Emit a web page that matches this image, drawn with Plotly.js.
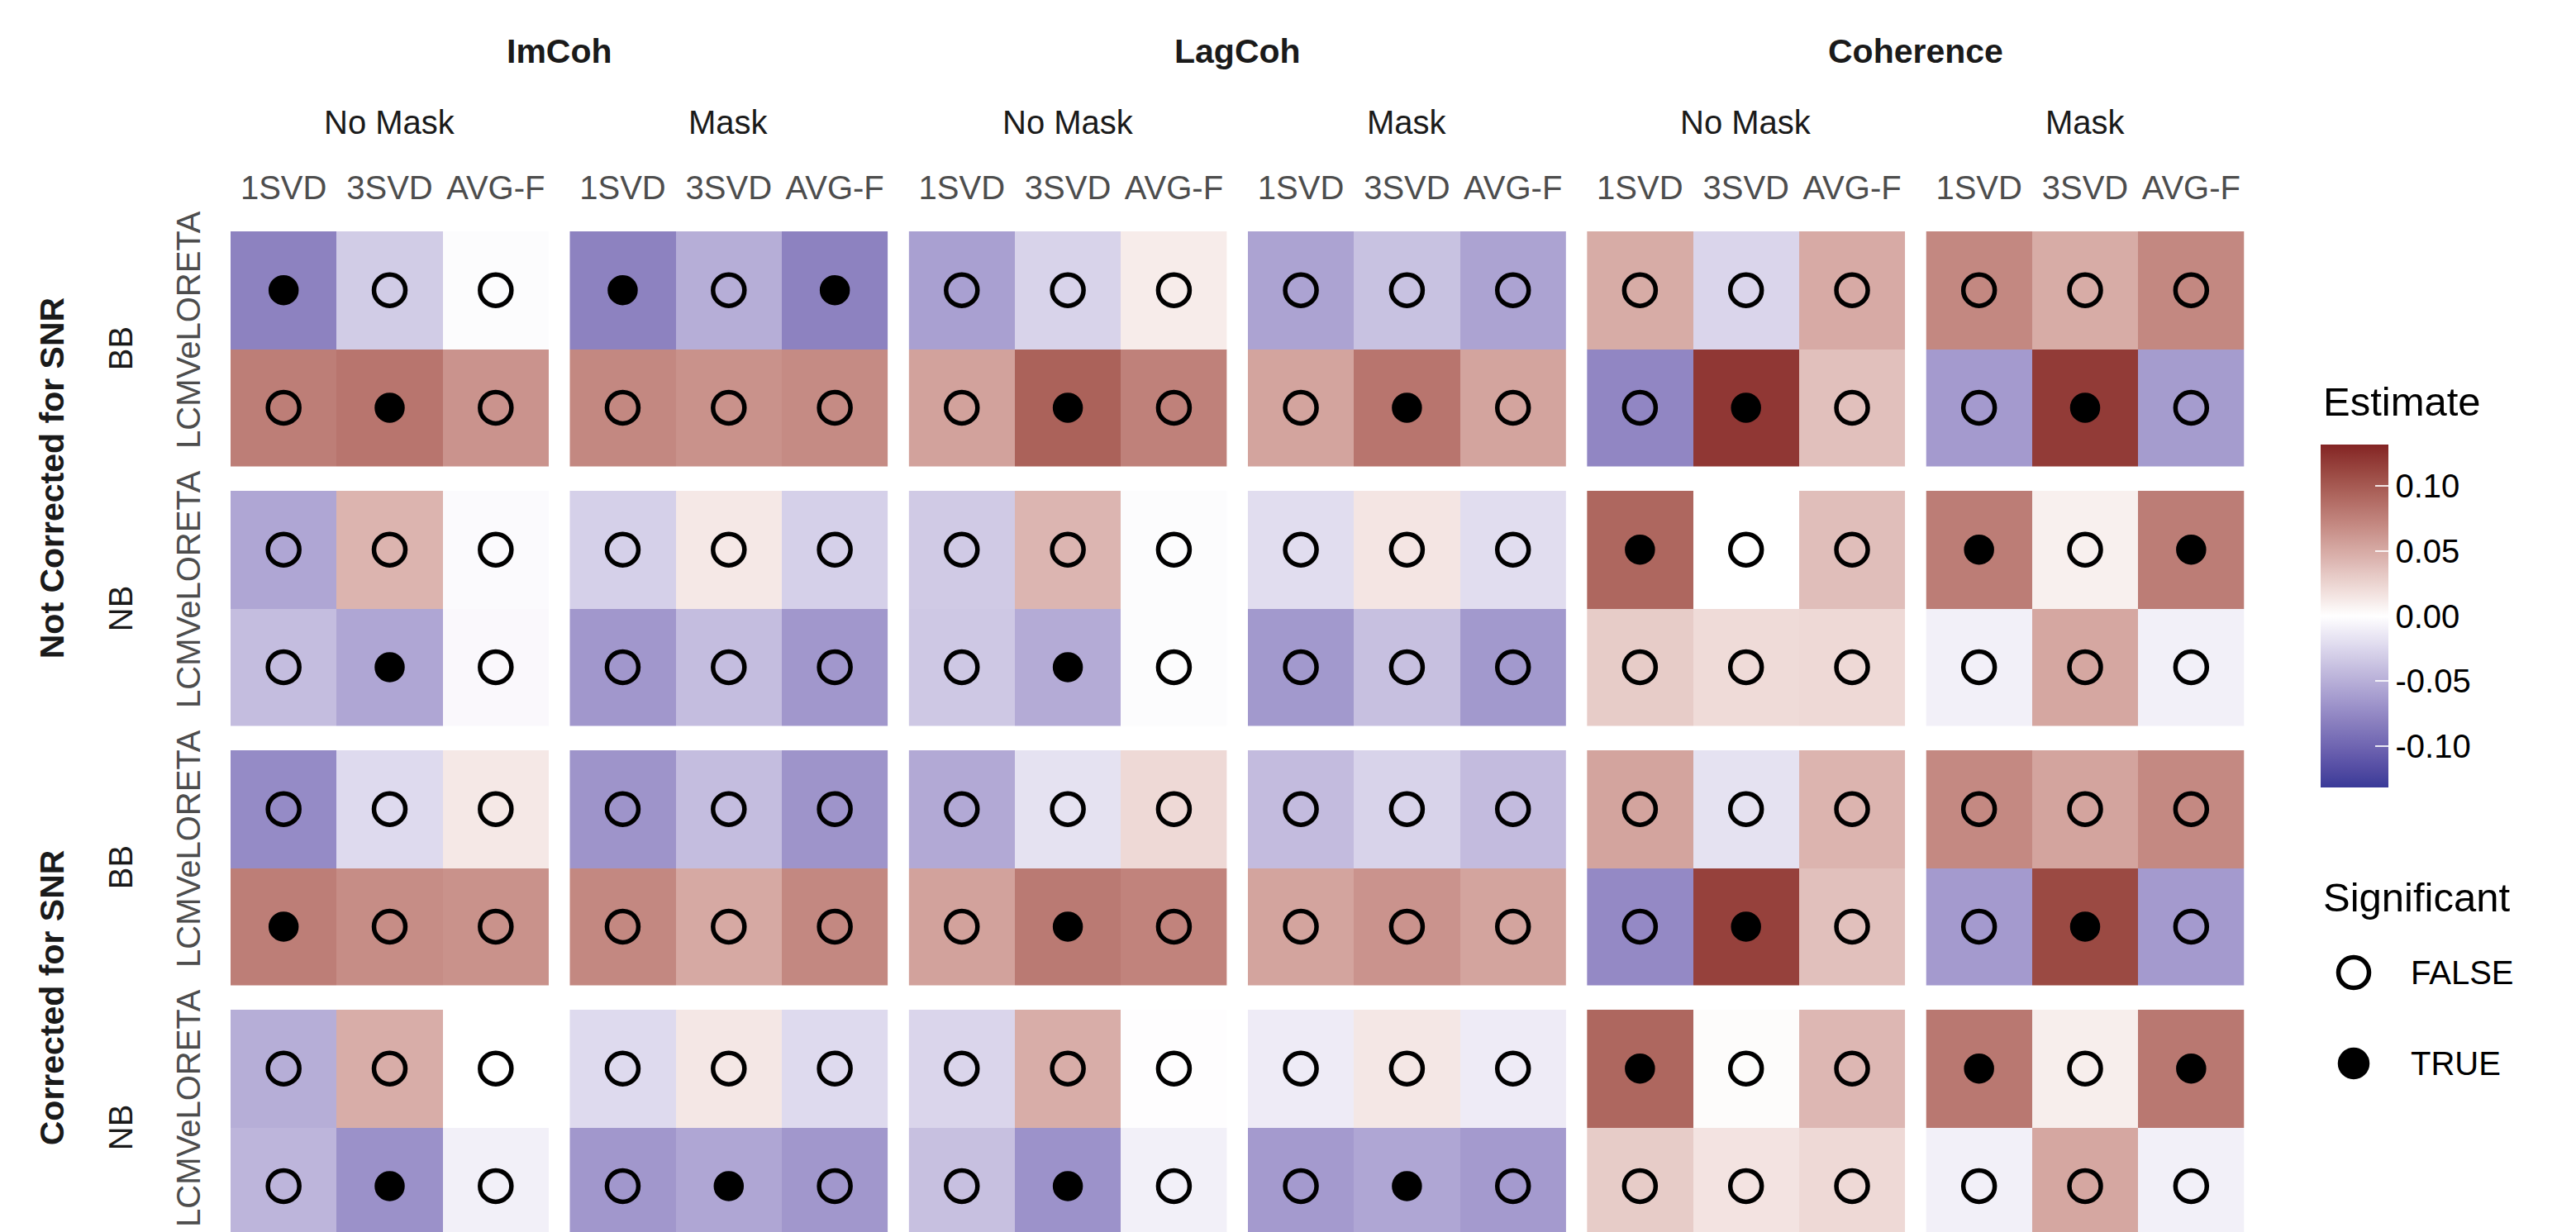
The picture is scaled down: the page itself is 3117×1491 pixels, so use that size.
<!DOCTYPE html>
<html><head><meta charset="utf-8">
<script src="https://cdn.plot.ly/plotly-3.0.1.min.js"></script>
<style>html,body{margin:0;padding:0;background:#fff;overflow:hidden}#chart{width:3117px;height:1491px}</style>
</head><body><div id="chart"></div>
<script>
const W = 3117, H = 1491;
const FONT = 'Liberation Sans, Arial, Helvetica, sans-serif';

// ---- categories ----
const metrics = ['ImCoh', 'LagCoh', 'Coherence'];
const masks = ['No Mask', 'Mask'];
const methods = ['1SVD', '3SVD', 'AVG-F'];
const solvers = ['LCMV', 'eLORETA'];           // bottom -> top inside each panel
const snrLabels = ['Not Corrected for SNR', 'Corrected for SNR'];
const bands = ['BB', 'NB'];
const sigLevels = ['FALSE', 'TRUE'];
const cbTickVals = [-0.10, -0.05, 0.00, 0.05, 0.10];
const cbTickText = ['-0.10', '-0.05', '0.00', '0.05', '0.10'];
const estLimit = 0.132;

// ---- estimates: 18 values per list = panels (ImCoh NoMask, ImCoh Mask, LagCoh NoMask, LagCoh Mask, Coherence NoMask, Coherence Mask) x methods ----
const est_notCorr_BB_eLORETA = [-0.080,-0.032,-0.002, -0.080,-0.051,-0.080, -0.060,-0.027,0.011, -0.058,-0.038,-0.058, 0.049,-0.026,0.050, 0.071,0.049,0.071];
const est_notCorr_BB_LCMV    = [0.077,0.083,0.064, 0.071,0.065,0.069, 0.055,0.095,0.075, 0.054,0.083,0.054, -0.077,0.121,0.037, -0.064,0.119,-0.063];
const est_notCorr_NB_eLORETA = [-0.056,0.044,-0.003, -0.029,0.013,-0.029, -0.033,0.043,-0.002, -0.021,0.015,-0.021, 0.092,0.000,0.038, 0.078,0.009,0.078];
const est_notCorr_NB_LCMV    = [-0.041,-0.056,-0.004, -0.066,-0.041,-0.066, -0.034,-0.053,-0.002, -0.065,-0.039,-0.065, 0.030,0.021,0.022, -0.009,0.052,-0.009];
const est_corr_BB_eLORETA    = [-0.074,-0.023,0.013, -0.068,-0.041,-0.068, -0.054,-0.018,0.022, -0.042,-0.027,-0.042, 0.054,-0.018,0.044, 0.070,0.054,0.070];
const est_corr_BB_LCMV       = [0.077,0.068,0.065, 0.071,0.051,0.071, 0.055,0.080,0.074, 0.054,0.064,0.054, -0.075,0.115,0.037, -0.064,0.110,-0.064];
const est_corr_NB_eLORETA    = [-0.051,0.048,0.000, -0.023,0.014,-0.023, -0.026,0.048,-0.001, -0.012,0.014,-0.012, 0.092,0.002,0.042, 0.081,0.010,0.081];
const est_corr_NB_LCMV       = [-0.046,-0.070,-0.009, -0.066,-0.056,-0.066, -0.039,-0.069,-0.009, -0.064,-0.056,-0.064, 0.030,0.016,0.022, -0.009,0.052,-0.009];

// ---- significance (1 = TRUE) ----
const sig_notCorr_BB_eLORETA = [1,0,0, 1,0,1, 0,0,0, 0,0,0, 0,0,0, 0,0,0];
const sig_notCorr_BB_LCMV    = [0,1,0, 0,0,0, 0,1,0, 0,1,0, 0,1,0, 0,1,0];
const sig_notCorr_NB_eLORETA = [0,0,0, 0,0,0, 0,0,0, 0,0,0, 1,0,0, 1,0,1];
const sig_notCorr_NB_LCMV    = [0,1,0, 0,0,0, 0,1,0, 0,0,0, 0,0,0, 0,0,0];
const sig_corr_BB_eLORETA    = [0,0,0, 0,0,0, 0,0,0, 0,0,0, 0,0,0, 0,0,0];
const sig_corr_BB_LCMV       = [1,0,0, 0,0,0, 0,1,0, 0,0,0, 0,1,0, 0,1,0];
const sig_corr_NB_eLORETA    = [0,0,0, 0,0,0, 0,0,0, 0,0,0, 1,0,0, 1,0,1];
const sig_corr_NB_LCMV       = [0,1,0, 0,1,0, 0,1,0, 0,1,0, 0,0,0, 0,0,0];

const rowEst = [
  [est_notCorr_BB_LCMV, est_notCorr_BB_eLORETA],
  [est_notCorr_NB_LCMV, est_notCorr_NB_eLORETA],
  [est_corr_BB_LCMV, est_corr_BB_eLORETA],
  [est_corr_NB_LCMV, est_corr_NB_eLORETA]
];
const rowSig = [
  [sig_notCorr_BB_LCMV, sig_notCorr_BB_eLORETA],
  [sig_notCorr_NB_LCMV, sig_notCorr_NB_eLORETA],
  [sig_corr_BB_LCMV, sig_corr_BB_eLORETA],
  [sig_corr_NB_LCMV, sig_corr_NB_eLORETA]
];

// ---- colour scale: gradient2 (muted blue - white - muted red) in CIELAB ----
function hex2rgb(h){h=h.replace('#','');return [0,2,4].map(i=>parseInt(h.substr(i,2),16));}
function s2l(c){c/=255;return c<=0.04045?c/12.92:Math.pow((c+0.055)/1.055,2.4);}
function l2s(c){c=c<=0.0031308?12.92*c:1.055*Math.pow(c,1/2.4)-0.055;return Math.round(Math.max(0,Math.min(1,c))*255);}
function rgb2lab(rgb){
  const [r,g,b]=rgb.map(s2l);
  const X=(0.4124*r+0.3576*g+0.1805*b)/0.95047, Y=(0.2126*r+0.7152*g+0.0722*b), Z=(0.0193*r+0.1192*g+0.9505*b)/1.08883;
  const f=t=>t>0.008856?Math.cbrt(t):7.787*t+16/116;
  return [116*f(Y)-16, 500*(f(X)-f(Y)), 200*(f(Y)-f(Z))];
}
function lab2rgb(lab){
  const [L,a,b]=lab; const fy=(L+16)/116, fx=fy+a/500, fz=fy-b/200;
  const fi=t=>t>0.206893?t*t*t:(t-16/116)/7.787;
  const X=fi(fx)*0.95047, Y=fi(fy), Z=fi(fz)*1.08883;
  const r=3.2406*X-1.5372*Y-0.4986*Z, g=-0.9689*X+1.8758*Y+0.0415*Z, bb=0.0557*X-0.2040*Y+1.0570*Z;
  return 'rgb('+l2s(r)+','+l2s(g)+','+l2s(bb)+')';
}
const labLow=rgb2lab(hex2rgb('#3A3A98')), labMid=rgb2lab(hex2rgb('#FFFFFF')), labHigh=rgb2lab(hex2rgb('#832424'));
const colorscale=[];
const NS=40;
for(let i=0;i<=NS;i++){
  const f=i/NS, v=2*f-1, end=v<0?labLow:labHigh, t=Math.abs(v);
  colorscale.push([f, lab2rgb(labMid.map((m,k)=>m+(end[k]-m)*t))]);
}

// ---- geometry (pixels) ----
const panelLeft=279, panelW=385, gapX=25.3;
const panelTop=280, panelH=284.5, gapY=29.5;
const colX0=c=>panelLeft+c*(panelW+gapX);
const rowY0=r=>panelTop+r*(panelH+gapY);
const px=x=>x/W, py=y=>1-y/H;

const traces=[];
const layout={
  width:W, height:H, margin:{l:0,r:0,t:0,b:0}, paper_bgcolor:'#fff', plot_bgcolor:'rgba(0,0,0,0)',
  showlegend:false, font:{family:FONT,size:40,color:'#1A1A1A'}, annotations:[]
};

for(let c=0;c<6;c++){
  const key=c===0?'xaxis':'xaxis'+(c+1);
  layout[key]={domain:[px(colX0(c)),px(colX0(c)+panelW)], anchor:'y', side:'top', type:'category',
    categoryarray:methods, categoryorder:'array', range:[-0.5,2.5], showgrid:false, zeroline:false, showline:false,
    ticks:'', ticklabelstandoff:30, tickfont:{family:FONT,size:40,color:'#4D4D4D'}, fixedrange:true};
}
for(let r=0;r<4;r++){
  const key=r===0?'yaxis':'yaxis'+(r+1);
  const top=rowY0(r), bot=top+panelH;
  let range=[-0.5,1.5], b=bot;
  if(bot>H){ b=H; range=[1.5-2*(H-top)/panelH,1.5]; }
  layout[key]={domain:[py(b),py(top)], anchor:'x', side:'left', type:'category', categoryarray:solvers, categoryorder:'array',
    range:range, showgrid:false, zeroline:false, showline:false, ticks:'', tickangle:-90, ticklabelstandoff:28,
    tickfont:{family:FONT,size:40,color:'#4D4D4D'}, fixedrange:true};
}

for(let r=0;r<4;r++){
  for(let c=0;c<6;c++){
    const xa=c===0?'x':'x'+(c+1), ya=r===0?'y':'y'+(r+1);
    const z=solvers.map((s,si)=>rowEst[r][si].slice(c*3,c*3+3));
    traces.push({type:'heatmap', x:methods, y:solvers, z:z, xaxis:xa, yaxis:ya, zmin:-estLimit, zmax:estLimit,
      colorscale:colorscale, hoverinfo:'skip', showscale:(r===0&&c===0),
      colorbar:{x:px(2808), xanchor:'left', xpad:0, y:py(745.5), yanchor:'middle', ypad:0, len:415, lenmode:'pixels',
        thickness:82, thicknessmode:'pixels', outlinewidth:0, tickmode:'array', tickvals:cbTickVals, ticktext:cbTickText,
        ticks:'inside', ticklen:16, tickwidth:2, tickcolor:'rgba(255,255,255,0.85)', tickfont:{family:FONT,size:40,color:'#000'}}});
    const mx=[],my=[],sym=[],sz=[];
    solvers.forEach((s,si)=>methods.forEach((m,mi)=>{
      const sg=rowSig[r][si][c*3+mi];
      mx.push(m); my.push(s); sym.push(sg?'circle':'circle-open'); sz.push(sg?31:38);
    }));
    traces.push({type:'scatter', mode:'markers', x:mx, y:my, xaxis:xa, yaxis:ya, hoverinfo:'skip', cliponaxis:true,
      marker:{symbol:sym, size:sz, opacity:1, color:'#000', line:{color:'#000', width:5.5}}});
  }
}

// ---- legend for Significant as a small keyed subplot ----
layout.xaxis7={domain:[px(2810),px(2886)], anchor:'y5', type:'category', range:[-0.5,0.5], visible:false, fixedrange:true};
layout.yaxis5={domain:[py(1342),py(1122)], anchor:'x7', side:'right', type:'category', categoryarray:['TRUE','FALSE'],
  categoryorder:'array', range:[-0.5,1.5], showgrid:false, zeroline:false, showline:false, ticks:'', ticklabelstandoff:30,
  tickfont:{family:FONT,size:40,color:'#000'}, fixedrange:true};
traces.push({type:'scatter', mode:'markers', x:sigLevels.map(()=>'key'), y:sigLevels, xaxis:'x7', yaxis:'y5', hoverinfo:'skip',
  marker:{symbol:sigLevels.map(s=>s==='TRUE'?'circle':'circle-open'), size:sigLevels.map(s=>s==='TRUE'?33:37), opacity:1,
    color:'#000', line:{color:'#000',width:5.5}}});

// ---- strip labels ----
const ann=layout.annotations;
for(let k=0;k<3;k++){
  const x0=colX0(2*k), x1=colX0(2*k+1)+panelW;
  ann.push({xref:'paper',yref:'paper',x:px((x0+x1)/2),y:py(62),text:metrics[k],showarrow:false,xanchor:'center',yanchor:'middle',
    font:{family:FONT,size:41,color:'#1A1A1A',weight:'bold'}});
  for(let m=0;m<2;m++){
    const c=2*k+m;
    ann.push({xref:'paper',yref:'paper',x:px(colX0(c)+panelW/2),y:py(148),text:masks[m],showarrow:false,xanchor:'center',yanchor:'middle',
      font:{family:FONT,size:40,color:'#1A1A1A'}});
  }
}
for(let s=0;s<2;s++){
  const y0=rowY0(2*s), y1=rowY0(2*s+1)+panelH;
  ann.push({xref:'paper',yref:'paper',x:px(63),y:py((y0+y1)/2),text:snrLabels[s],textangle:-90,showarrow:false,xanchor:'center',yanchor:'middle',
    font:{family:FONT,size:41,color:'#1A1A1A',weight:'bold'}});
  for(let b=0;b<2;b++){
    const r=2*s+b;
    ann.push({xref:'paper',yref:'paper',x:px(146),y:py(rowY0(r)+panelH/2),text:bands[b],textangle:-90,showarrow:false,xanchor:'center',yanchor:'middle',
      font:{family:FONT,size:40,color:'#1A1A1A'}});
  }
}
ann.push({xref:'paper',yref:'paper',x:px(2809),y:py(486),text:'Estimate',showarrow:false,xanchor:'left',yanchor:'middle',
  font:{family:FONT,size:49,color:'#000'}});
ann.push({xref:'paper',yref:'paper',x:px(2809),y:py(1086),text:'Significant',showarrow:false,xanchor:'left',yanchor:'middle',
  font:{family:FONT,size:49,color:'#000'}});

Plotly.newPlot('chart',traces,layout,{staticPlot:true,displayModeBar:false});
</script></body></html>
